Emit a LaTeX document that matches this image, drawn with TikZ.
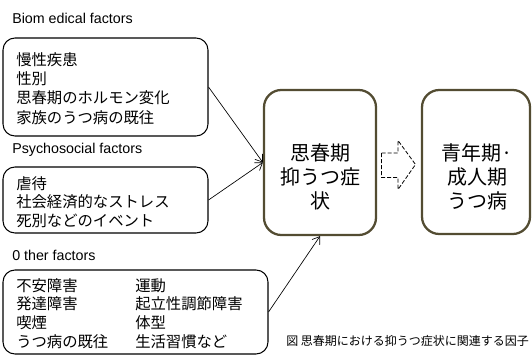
\documentclass[tikz,border=0pt]{standalone}
\usepackage{fontspec}
\setmainfont{Liberation Sans}
\newfontfamily\jp{Noto Sans CJK JP}
\usetikzlibrary{arrows.meta}
\definecolor{olivebrd}{HTML}{534C32}
\tikzset{
  factorbox/.style={draw=black, line width=0.8pt, rounded corners=9pt, inner sep=0pt},
  factortext/.style={anchor=west, inner sep=0pt, align=left, font=\jp\fontsize{11.5}{14.4}\selectfont},
  mainbox/.style={draw=olivebrd, line width=1.7pt, rounded corners=13pt, inner sep=0pt},
  maintext/.style={inner sep=0pt, align=center, font=\jp\fontsize{15}{18}\selectfont},
  catlabel/.style={anchor=west, inner sep=0pt, font=\fontsize{10.7}{12}\selectfont},
  link/.style={-{Straight Barb[length=5pt,width=7pt]}, line width=0.5pt},
  blockarrow/.style={draw=black, dash pattern=on 3pt off 1.5pt, line width=0.6pt}
}
\begin{document}
\begin{tikzpicture}[x=0.75pt,y=-0.75pt]
\useasboundingbox (0,0) rectangle (532,356);
\node[catlabel] (lbio) at (12,18) {Biom edical factors};
\node[catlabel] (lpsy) at (12,150) {Psychosocial factors};
\node[catlabel] (loth) at (12,255) {0 ther factors};
\node[factorbox, minimum width=153.75pt, minimum height=73.5pt] (bio) at (105.5,87) {};
\node[factortext] (biot) at (16,88.5)
  {慢性疾患\\性別\\思春期のホルモン変化\\家族のうつ病の既往};
\node[factorbox, minimum width=153.75pt, minimum height=49.5pt] (psy) at (105.5,200) {};
\node[factortext, font=\jp\fontsize{11.5}{14}\selectfont] (psyt) at (16,202)
  {虐待\\社会経済的なストレス\\死別などのイベント};
\node[factorbox, minimum width=198.75pt, minimum height=63pt] (oth) at (135.5,312) {};
\node[factortext, font=\jp\fontsize{11.5}{14}\selectfont] (otht) at (16,315.5)
  {\begin{tabular}{@{}p{89.25pt}@{}l@{}}不安障害 & 運動\\ 発達障害 & 起立性調節障害\\ 喫煙 & 体型\\ うつ病の既往 & 生活習慣など\end{tabular}};
\node[mainbox, minimum width=84pt, minimum height=108.75pt] (dep) at (320,162.5) {};
\node[maintext] (dept) at (320,176.5) {思春期\\抑うつ症\\状};
\node[mainbox, minimum width=81pt, minimum height=108pt] (adult) at (476,162) {};
\node[maintext] (adultt) at (477,176.5) {青年期·\\成人期\\うつ病};
\draw[link] (bio.east) -- (dep.west);
\draw[link] (psy.east) -- (dep.west);
\draw[link] (oth.east) -- (dep.south);
\draw[blockarrow] (381.5,153) -- (398,153) -- (398,140.5) -- (415.5,164.5) -- (398,189.5) -- (398,177.5) -- (381.5,177.5) -- cycle;
\node[anchor=west, inner sep=0pt, font=\jp\fontsize{9}{10}\selectfont] (cap) at (286,341) {図 思春期における抑うつ症状に関連する因子};
\end{tikzpicture}
\end{document}
